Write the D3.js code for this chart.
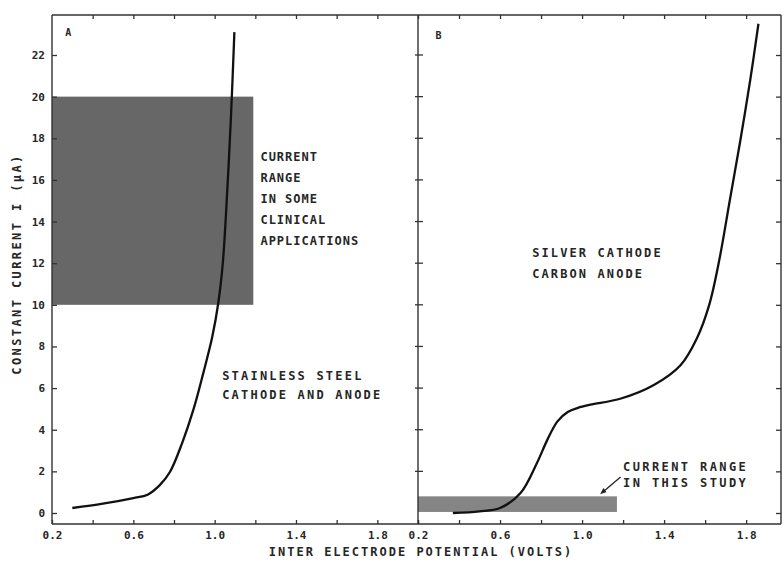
<!DOCTYPE html>
<html>
<head>
  <meta charset="utf-8">
  <title>Constant current vs inter electrode potential</title>
  <script src="https://cdn.jsdelivr.net/npm/d3@7"></script>
  <style>
    body { margin: 0; background: #fff; }
    svg { display: block; }
    text { font-family: "DejaVu Sans Mono", monospace; font-weight: bold; fill: #262626; }
  </style>
  <script type="text/javascript">
    // panel A: stainless steel cathode and anode
    var curveA_v = [0.30, 0.45, 0.60, 0.67, 0.73, 0.78, 0.84, 0.895, 0.944, 0.988, 1.018, 1.040, 1.062, 1.080, 1.097];
    var curveA_i = [0.24, 0.45, 0.72, 0.88, 1.34, 1.97, 3.36, 4.95, 6.72, 8.45, 10.1, 12.0, 15.5, 19.0, 23.1];

    // panel B: silver cathode, carbon anode
    var curveB_v = [0.37, 0.50, 0.60, 0.70, 0.78, 0.83, 0.88, 0.93, 0.98, 1.04, 1.19, 1.35, 1.48, 1.56, 1.62, 1.67, 1.72, 1.77, 1.82, 1.86];
    var curveB_i = [0.00, 0.08, 0.24, 0.96, 2.4, 3.5, 4.4, 4.85, 5.05, 5.2, 5.5, 6.15, 7.1, 8.4, 10.0, 12.2, 15.0, 17.8, 20.8, 23.5];

    // shaded current ranges
    var clinicalRange_v = [0.2, 1.19];
    var clinicalRange_i = [10, 20];
    var studyRange_v = [0.2, 1.17];
    var studyRange_i = [0.05, 0.8];

    // axes
    var xTickLabels = [0.2, 0.6, 1.0, 1.4, 1.8];
    var xMinorTicks = [0.2, 0.4, 0.6, 0.8, 1.0, 1.2, 1.4, 1.6, 1.8, 2.0];
    var yTicks = [0, 2, 4, 6, 8, 10, 12, 14, 16, 18, 20, 22];

    var clinicalText = ["CURRENT", "RANGE", "IN SOME", "CLINICAL", "APPLICATIONS"];
    var steelText = ["STAINLESS STEEL", "CATHODE AND ANODE"];
    var silverText = ["SILVER CATHODE", "CARBON ANODE"];
    var studyText = ["CURRENT RANGE", "IN THIS STUDY"];

    function draw() {
      "use strict";
      var width = 782, height = 562,
          top = 15, bottom = 524,
          leftA = 52, mid = 418, rightB = 781;

      var svg = d3.select("body").append("svg")
                  .attr("width", width)
                  .attr("height", height);

      var xA = d3.scaleLinear().domain([0.2, 2.0]).range([leftA, mid]);
      var xB = d3.scaleLinear().domain([0.2, 1.97]).range([mid, rightB]);
      var y = d3.scaleLinear().domain([0, 22]).range([513, 55]);

      /*
        shaded ranges
      */
      svg.append("rect")
        .attr("x", xA(clinicalRange_v[0]))
        .attr("y", y(clinicalRange_i[1]))
        .attr("width", xA(clinicalRange_v[1]) - xA(clinicalRange_v[0]))
        .attr("height", y(clinicalRange_i[0]) - y(clinicalRange_i[1]))
        .attr("fill", "#676767");

      svg.append("rect")
        .attr("x", xB(studyRange_v[0]))
        .attr("y", y(studyRange_i[1]))
        .attr("width", xB(studyRange_v[1]) - xB(studyRange_v[0]))
        .attr("height", y(studyRange_i[0]) - y(studyRange_i[1]))
        .attr("fill", "#858585");

      /*
        frame lines
      */
      var frame = svg.append("g")
        .attr("stroke", "#333")
        .attr("stroke-width", 1.4);
      frame.append("line").attr("x1", leftA).attr("x2", rightB).attr("y1", top).attr("y2", top);
      frame.append("line").attr("x1", leftA).attr("x2", rightB).attr("y1", bottom).attr("y2", bottom);
      frame.append("line").attr("x1", leftA).attr("x2", leftA).attr("y1", top).attr("y2", bottom);
      frame.append("line").attr("x1", mid).attr("x2", mid).attr("y1", top).attr("y2", bottom);
      frame.append("line").attr("x1", rightB).attr("x2", rightB).attr("y1", top).attr("y2", bottom);

      function styleAxis(g) {
        g.select(".domain").remove();
        g.selectAll(".tick line").attr("stroke", "#333").attr("stroke-width", 1.3);
        g.selectAll(".tick text")
          .style("font-family", "DejaVu Sans Mono, monospace")
          .style("font-weight", "bold")
          .style("font-size", "11px")
          .attr("fill", "#262626");
      }

      function fmtX(v) {
        var hit = xTickLabels.some(function (t) { return Math.abs(t - v) < 1e-6; });
        return hit ? d3.format(".1f")(v) : "";
      }

      // bottom axes, ticks pointing up
      [xA, xB].forEach(function (sc, k) {
        var vals = xMinorTicks.filter(function (v) { return v <= sc.domain()[1] + 1e-6 && (k === 0 || v < 1.99); });
        svg.append("g")
          .attr("transform", "translate(0," + bottom + ")")
          .call(d3.axisBottom(sc).tickValues(vals).tickSizeInner(-4).tickSizeOuter(0)
                  .tickPadding(7).tickFormat(fmtX))
          .call(styleAxis);

        svg.append("g")
          .attr("transform", "translate(0," + top + ")")
          .call(d3.axisTop(sc).tickValues(vals.slice(1)).tickSizeInner(-4).tickSizeOuter(0)
                  .tickFormat(""))
          .call(styleAxis);
      });

      // left axis of panel A, ticks pointing right
      svg.append("g")
        .attr("transform", "translate(" + leftA + ",0)")
        .call(d3.axisLeft(y).tickValues(yTicks).tickSizeInner(-5).tickSizeOuter(0)
                .tickPadding(7).tickFormat(d3.format("d")))
        .call(styleAxis);

      // shared divider: short ticks across
      svg.append("g").selectAll("line")
        .data(yTicks.filter(function (d) { return d > 0; }))
        .enter().append("line")
          .attr("x1", mid - 3).attr("x2", mid + 5)
          .attr("y1", function (d) { return y(d); })
          .attr("y2", function (d) { return y(d); })
          .attr("stroke", "#333").attr("stroke-width", 1.3);

      // right axis of panel B, ticks pointing left
      svg.append("g")
        .attr("transform", "translate(" + rightB + ",0)")
        .call(d3.axisLeft(y).tickValues(yTicks).tickSizeInner(5).tickSizeOuter(0).tickFormat(""))
        .call(styleAxis);

      /*
        curves
      */
      var lineA = d3.line()
        .x(function (d, i) { return xA(curveA_v[i]); })
        .y(function (d, i) { return y(curveA_i[i]); })
        .curve(d3.curveCatmullRom.alpha(0.5));
      var lineB = d3.line()
        .x(function (d, i) { return xB(curveB_v[i]); })
        .y(function (d, i) { return y(curveB_i[i]); })
        .curve(d3.curveCatmullRom.alpha(0.5));

      svg.append("path").datum(curveA_v).attr("d", lineA)
        .attr("fill", "none").attr("stroke", "#111").attr("stroke-width", 2.3);
      svg.append("path").datum(curveB_v).attr("d", lineB)
        .attr("fill", "none").attr("stroke", "#111").attr("stroke-width", 2.3);

      /*
        annotations
      */
      function block(lines, x, y0, lh, ls) {
        svg.append("g").selectAll("text")
          .data(lines)
          .enter().append("text")
            .attr("x", x)
            .attr("y", function (d, i) { return y0 + i * lh; })
            .style("font-size", "12px")
            .style("letter-spacing", ls + "px")
            .text(function (d) { return d; });
      }
      block(clinicalText, xA(1.225), y(16.9), 21, 1);
      block(steelText, xA(1.037), y(6.4), 19, 2.2);
      block(silverText, xB(0.757), y(12.3), 21, 2.1);
      block(studyText, xB(1.20), y(2.0), 16, 2.4);

      // small arrow to the study range
      svg.append("defs").append("marker")
        .attr("id", "head")
        .attr("viewBox", "0 0 10 10")
        .attr("refX", 5).attr("refY", 5)
        .attr("markerWidth", 5).attr("markerHeight", 5)
        .attr("orient", "auto-start-reverse")
        .append("path").attr("d", "M0,1 L10,5 L0,9 z").attr("fill", "#222");
      svg.append("line")
        .attr("x1", xB(1.188)).attr("y1", y(1.73))
        .attr("x2", xB(1.10)).attr("y2", y(1.0))
        .attr("stroke", "#222").attr("stroke-width", 1.3)
        .attr("marker-end", "url(#head)");

      // panel letters
      svg.append("text").attr("x", xA(0.265)).attr("y", 36).style("font-size", "10px").text("A");
      svg.append("text").attr("x", xB(0.285)).attr("y", 39).style("font-size", "10px").text("B");

      // axis titles
      svg.append("text")
        .attr("transform", "translate(21," + 264 + ") rotate(-90)")
        .attr("text-anchor", "middle")
        .style("font-size", "12px")
        .style("letter-spacing", "2.4px")
        .text("CONSTANT CURRENT I (\u03bcA)");

      svg.append("text")
        .attr("x", 421).attr("y", 556)
        .attr("text-anchor", "middle")
        .style("font-size", "12px")
        .style("letter-spacing", "2px")
        .text("INTER ELECTRODE POTENTIAL (VOLTS)");
    }
  </script>
</head>
<body>
  <script type="text/javascript">
    draw();
  </script>
</body>
</html>
